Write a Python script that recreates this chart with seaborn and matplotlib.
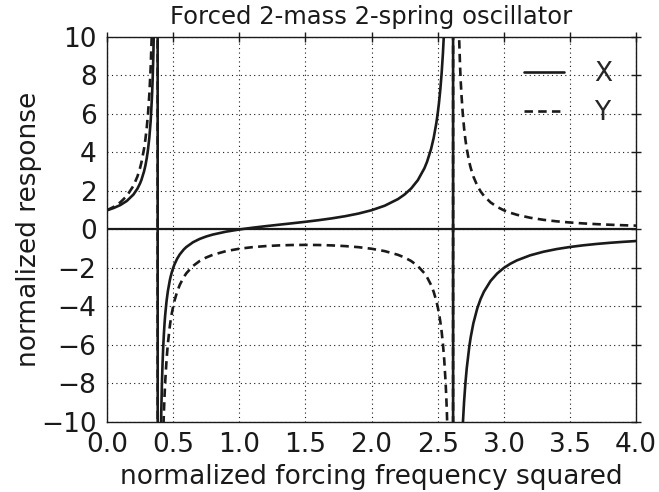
import matplotlib
matplotlib.use("Agg")
import matplotlib.pyplot as plt
import seaborn as sns
import pandas as pd

# normalized forcing frequency squared
w2 = [0.0, 0.05, 0.1, 0.15, 0.2, 0.23, 0.25, 0.26, 0.28, 0.29, 0.3, 0.31, 0.32, 0.33,
      0.34, 0.345, 0.35, 0.355, 0.36, 0.37, 0.38,
      0.385, 0.39, 0.40, 0.41, 0.415, 0.42, 0.425, 0.43, 0.435, 0.44, 0.45, 0.46, 0.475,
      0.48, 0.49, 0.5, 0.51, 0.53, 0.55, 0.58, 0.6, 0.65, 0.7, 0.75,
      0.8, 0.9, 1.0, 1.1, 1.2, 1.3, 1.4, 1.5, 1.6, 1.7, 1.8, 1.9, 2.0, 2.1, 2.2, 2.25,
      2.3, 2.35, 2.4, 2.42, 2.45, 2.47, 2.49, 2.5, 2.51, 2.52, 2.53, 2.54, 2.55, 2.56,
      2.565, 2.57, 2.58, 2.59, 2.6, 2.61, 2.615,
      2.62, 2.63, 2.64, 2.65, 2.655, 2.66, 2.67, 2.675, 2.68, 2.69, 2.7, 2.71, 2.72,
      2.74, 2.75, 2.77, 2.8, 2.825, 2.85, 2.9, 2.95, 3.0,
      3.05, 3.1, 3.2, 3.3, 3.4, 3.5, 3.6, 3.7, 3.8, 3.9, 4.0]

x_resp = [1.0, 1.1144, 1.2676, 1.4847, 1.8182, 2.1218, 2.4, 2.5730, 3.0201, 3.3162,
          3.6842, 4.1541, 4.7753, 5.6350, 6.9038, 7.7953, 8.9655, 10.5695, 12.903,
          23.42, 140.9,
          -90.77, -34.08, -15.0, -9.532, -8.0385, -6.938, -6.0927, -5.423, -4.8802,
          -4.4304, -3.729, -3.2067, -2.633, -2.4809, -2.2183, -2.0, -1.8155, -1.5205,
          -1.295, -1.0406, -0.9091, -0.6635, -0.4918, -0.3636,
          -0.2632, -0.1124, 0.0, 0.0917, 0.1724, 0.2479, 0.3226, 0.4, 0.4839, 0.5785,
          0.6897, 0.8257, 1.0, 1.2360, 1.5789, 1.8182,
          2.1311, 2.5592, 3.1818, 3.5183, 4.1727, 4.7557, 5.5206, 6.0, 6.5681, 7.2519,
          8.0910, 9.1449, 10.508, 12.342,
          13.518, 14.938, 18.900, 25.52, 40.0, 89.94, 238.4,
          -368.2, -60.59, -33.06, -22.76, -19.697, -17.36, -14.045, -12.823, -11.80,
          -10.175, -8.947, -7.9869, -7.215,
          -6.0501, -5.6, -4.8774, -4.0909, -3.6094, -3.2314, -2.6761, -2.2874, -2.0,
          -1.7787, -1.6031, -1.3415, -1.1558, -1.0169, -0.9091, -0.8228, -0.7521,
          -0.6931, -0.6430, -0.6]

y_resp = [1.0, 1.1730, 1.4085, 1.7467, 2.2727, 2.7556, 3.2, 3.4771, 4.1946, 4.6707,
          5.2632, 6.0205, 7.0225, 8.4104, 10.4603, 11.901, 13.7931, 16.387, 20.161,
          37.17, 227.3,
          -147.6, -55.87, -25.0, -16.155, -13.741, -11.962, -10.596, -9.515, -8.6374,
          -7.9114, -6.780, -5.9382, -5.016, -4.7710, -4.3497, -4.0, -3.7051, -3.2352,
          -2.878, -2.4777, -2.2727, -1.8957, -1.6393, -1.4545,
          -1.3158, -1.1236, -1.0, -0.9174, -0.8621, -0.8264, -0.8065, -0.8, -0.8065,
          -0.8264, -0.8621, -0.9174, -1.0, -1.1236, -1.3158, -1.4545,
          -1.6393, -1.8957, -2.2727, -2.4777, -2.8777, -3.2352, -3.7051, -4.0, -4.3497,
          -4.7710, -5.2882, -5.9382, -6.780, -7.9114,
          -8.6374, -9.515, -11.962, -16.155, -25.0, -55.87, -147.6,
          227.3, 37.17, 20.16, 13.79, 11.901, 10.46, 8.4104, 7.6555, 7.0225, 6.0205,
          5.263, 4.6707, 4.1946,
          3.4771, 3.2, 2.7556, 2.2727, 1.9778, 1.7467, 1.4085, 1.1730, 1.0,
          0.8677, 0.7634, 0.6098, 0.5025, 0.4237, 0.3636, 0.3165, 0.2786, 0.2475,
          0.2217, 0.2]

series_names = ["X", "Y"]
x_ticks = [0.0, 0.5, 1.0, 1.5, 2.0, 2.5, 3.0, 3.5, 4.0]
y_ticks = [-10, -8, -6, -4, -2, 0, 2, 4, 6, 8, 10]

sns.set_theme(style="white")
plt.rcParams["font.family"] = ["DejaVu Sans"]

fig = plt.figure(figsize=(6.59, 4.92), dpi=100)
ax = fig.add_axes([0.1624, 0.1423, 0.8027, 0.7825])

df = pd.DataFrame({"w2": w2, "X": x_resp, "Y": y_resp})

sns.lineplot(data=df, x="w2", y="X", ax=ax, color="k", lw=1.9, label=series_names[0],
             sort=False, estimator=None)
sns.lineplot(data=df, x="w2", y="Y", ax=ax, color="k", lw=1.9, label=series_names[1],
             sort=False, estimator=None)
ax.lines[1].set_dashes((3.2, 2.0))

ax.axhline(0, color="k", lw=1.6)

ax.set_xlim(0, 4)
ax.set_ylim(-10, 10)
ax.set_xticks(x_ticks)
ax.set_yticks(y_ticks)
ax.set_xticklabels([f"{t:.1f}" for t in x_ticks])

ax.grid(True, color="k", linestyle=(0, (1, 3)), linewidth=0.8)
for s in ax.spines.values():
    s.set_color("k")
    s.set_linewidth(1.0)
    s.set_visible(True)

ax.tick_params(direction="inout", length=7, width=1, top=True, right=True,
               labelsize=19, colors="k", pad=4)

ax.set_xlabel("normalized forcing frequency squared", fontsize=19, color="k", labelpad=4)
ax.set_ylabel("normalized response", fontsize=19, color="k", labelpad=-1)
ax.set_title("Forced 2-mass 2-spring oscillator", fontsize=17.5, color="k", pad=9)

leg = ax.legend(loc="upper right", frameon=False, fontsize=19, handlelength=1.5,
                handletextpad=1.15, labelspacing=0.5)

fig.savefig("out.png", dpi=100)
